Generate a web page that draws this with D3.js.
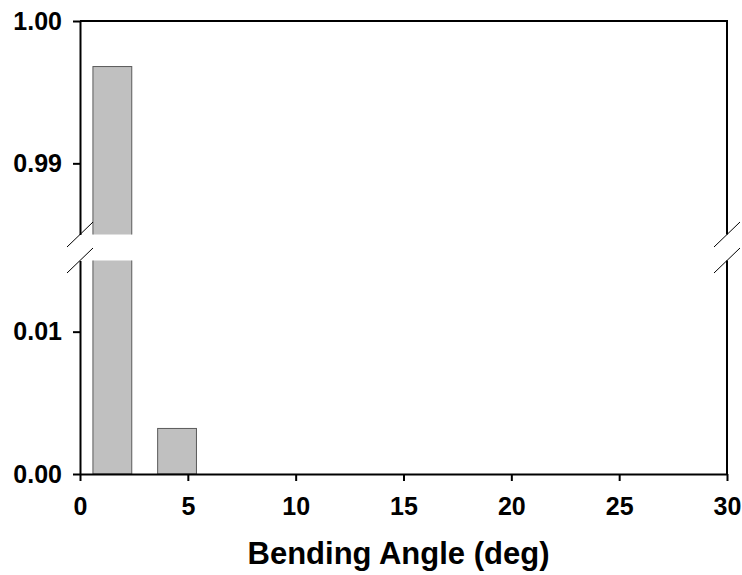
<!DOCTYPE html>
<html>
<head>
<meta charset="utf-8">
<script src="https://cdn.jsdelivr.net/npm/d3@7/dist/d3.min.js"></script>
<style>
  html, body { margin: 0; padding: 0; background: #fff; }
  svg { display: block; }
  text { font-family: Arial, "Liberation Sans", sans-serif; font-weight: bold; fill: #000; }
</style>
</head>
<body>
<script>
// ---- data ----
const binCenters = [1.5, 4.5, 7.5, 10.5, 13.5, 16.5, 19.5, 22.5, 25.5, 28.5];
const fractions  = [0.9968, 0.0032, 0, 0, 0, 0, 0, 0, 0, 0];
const xTicks = [0, 5, 10, 15, 20, 25, 30];
const yTicksTop = [0.99, 1.00];
const yTicksBottom = [0.00, 0.01];
const xLabel = "Bending Angle (deg)";

const W = 742, H = 575;
const svg = d3.select("body").append("svg").attr("width", W).attr("height", H);

const x = d3.scaleLinear().domain([0, 30]).range([80, 727]);
const yTop = d3.scaleLinear().domain([0.985, 1.0]).range([234.5, 21]);
const yBot = d3.scaleLinear().domain([0, 0.015]).range([474, 260.5]);
const binWidth = 3, barFrac = 0.6;

// clip paths for the two segments
const defs = svg.append("defs");
defs.append("clipPath").attr("id", "clipTop").append("rect")
  .attr("x", x(0)).attr("y", yTop(1.0))
  .attr("width", x(30) - x(0)).attr("height", yTop(0.985) - yTop(1.0));
defs.append("clipPath").attr("id", "clipBot").append("rect")
  .attr("x", x(0)).attr("y", yBot(0.015))
  .attr("width", x(30) - x(0)).attr("height", yBot(0) - yBot(0.015) + 2);

const data = binCenters.map((c, i) => ({c, v: fractions[i]})).filter(d => d.v > 0);
const bw = x(binWidth * barFrac) - x(0);

// top segment bars
svg.append("g").attr("clip-path", "url(#clipTop)")
  .selectAll("rect").data(data.filter(d => d.v > 0.985)).join("rect")
  .attr("x", d => x(d.c) - bw / 2)
  .attr("y", d => yTop(d.v))
  .attr("width", bw)
  .attr("height", d => yTop(0.985) - yTop(d.v) + 10)
  .attr("fill", "#c0c0c0").attr("stroke", "#5a5a5a").attr("stroke-width", 1);

// bottom segment bars
svg.append("g").attr("clip-path", "url(#clipBot)")
  .selectAll("rect").data(data).join("rect")
  .attr("x", d => x(d.c) - bw / 2)
  .attr("y", d => d.v > 0.015 ? yBot(0.015) - 10 : yBot(d.v))
  .attr("width", bw)
  .attr("height", d => yBot(0) - (d.v > 0.015 ? yBot(0.015) - 10 : yBot(d.v)))
  .attr("fill", "#c0c0c0").attr("stroke", "#5a5a5a").attr("stroke-width", 1);

function styleAxis(g) {
  g.selectAll(".domain").attr("stroke", "#000").attr("stroke-width", 2);
  g.selectAll(".tick line").attr("stroke", "#000").attr("stroke-width", 2);
  g.selectAll(".tick text").style("font-size", "25px").attr("fill", "#000");
}

// y axes
svg.append("g").attr("transform", `translate(${x(0)},0)`)
  .call(d3.axisLeft(yTop).tickValues(yTicksTop).tickFormat(d3.format(".2f"))
        .tickSize(7).tickSizeOuter(0).tickPadding(11))
  .call(styleAxis);
svg.append("g").attr("transform", `translate(${x(0)},0)`)
  .call(d3.axisLeft(yBot).tickValues(yTicksBottom).tickFormat(d3.format(".2f"))
        .tickSize(7).tickSizeOuter(0).tickPadding(11))
  .call(styleAxis);

// x axis
svg.append("g").attr("transform", `translate(0,${yBot(0)})`)
  .call(d3.axisBottom(x).tickValues(xTicks).tickFormat(d3.format("d"))
        .tickSize(7).tickSizeOuter(0).tickPadding(16))
  .call(styleAxis);

// frame: top and right (broken)
svg.append("line").attr("x1", x(0)).attr("x2", x(30) + 1)
  .attr("y1", yTop(1.0)).attr("y2", yTop(1.0))
  .attr("stroke", "#000").attr("stroke-width", 2);
svg.append("line").attr("x1", x(30)).attr("x2", x(30))
  .attr("y1", yTop(1.0)).attr("y2", yTop(0.985))
  .attr("stroke", "#000").attr("stroke-width", 2);
svg.append("line").attr("x1", x(30)).attr("x2", x(30))
  .attr("y1", yBot(0.015)).attr("y2", yBot(0))
  .attr("stroke", "#000").attr("stroke-width", 2);

// break marks
[x(0), x(30)].forEach(ax => {
  [yTop(0.985), yBot(0.015)].forEach(yy => {
    svg.append("line")
      .attr("x1", ax - 13).attr("y1", yy + 12.5)
      .attr("x2", ax + 13).attr("y2", yy - 12.5)
      .attr("stroke", "#000").attr("stroke-width", 1);
  });
});

// x label
svg.append("text")
  .attr("x", (x(0) + x(30)) / 2 - 5).attr("y", 564)
  .attr("text-anchor", "middle").style("font-size", "31px")
  .text(xLabel);
</script>
</body>
</html>
